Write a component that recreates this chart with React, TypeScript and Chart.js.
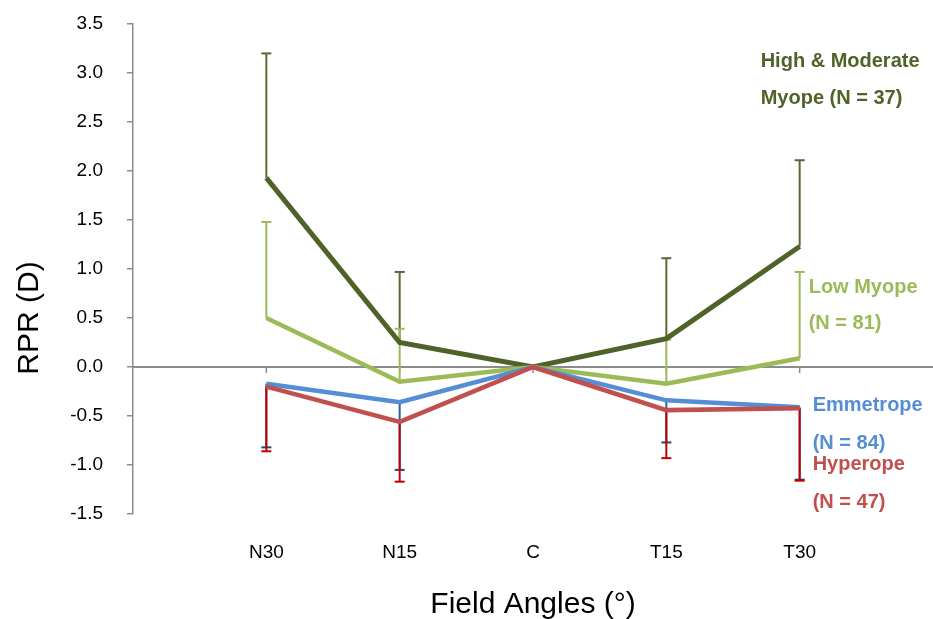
import React, { useEffect, useRef } from "react";
import { Chart, registerables } from "chart.js";

Chart.register(...registerables);

// Field angle categories (placed at x = 1..5 on a 0..6 axis)
const fieldAngles = ["N30", "N15", "C", "T15", "T30"];
const yTicks = [-1.5, -1.0, -0.5, 0.0, 0.5, 1.0, 1.5, 2.0, 2.5, 3.0, 3.5];

// Mean relative peripheral refraction (D) per group
const highModMyope = [1.93, 0.25, 0.0, 0.29, 1.23];
const lowMyope = [0.5, -0.15, 0.0, -0.17, 0.09];
const emmetrope = [-0.17, -0.36, 0.0, -0.34, -0.41];
const hyperope = [-0.2, -0.56, 0.0, -0.44, -0.42];

// One-sided SD error bars (positive = upward, negative = downward)
const highModMyopeSD = [1.27, 0.72, 0.0, 0.82, 0.88];
const lowMyopeSD = [0.98, 0.54, 0.0, 0.45, 0.88];
const emmetropeSD = [-0.65, -0.69, 0.0, -0.43, -0.74];
const hyperopeSD = [-0.66, -0.61, 0.0, -0.49, -0.74];

// Group labels drawn at the right of the plot: [text, colour, y-value of baseline, x offset from T30]
const groupLabels: [string, string, number, number][] = [
  ["High & Moderate", "#4F6228", 3.06, -39],
  ["Myope (N = 37)", "#4F6228", 2.68, -39],
  ["Low Myope", "#9BBB59", 0.755, 9],
  ["(N = 81)", "#9BBB59", 0.39, 9],
  ["Emmetrope", "#558ED5", -0.45, 13],
  ["(N = 84)", "#558ED5", -0.84, 13],
  ["Hyperope", "#C0504D", -1.05, 13],
  ["(N = 47)", "#C0504D", -1.44, 13],
];

const FONT = "'Liberation Sans', Arial, sans-serif";

const xs = fieldAngles.map((_, i) => i + 1);
const toPoints = (vals: number[]) => vals.map((v, i) => ({ x: xs[i], y: v }));

const errorBarSeries = [
  { means: highModMyope, sd: highModMyopeSD, color: "#56692F" },
  { means: lowMyope, sd: lowMyopeSD, color: "#9BBB59" },
  { means: emmetrope, sd: emmetropeSD, color: "#2E5C9A", cap: "#1F497D" },
  { means: hyperope, sd: hyperopeSD, color: "#C00000" },
];

const decorPlugin = {
  id: "decor",
  beforeDatasetsDraw(chart: any) {
    const { ctx, chartArea, scales } = chart;
    const x = scales.x;
    const y = scales.y;
    const y0 = y.getPixelForValue(0);
    ctx.save();
    // zero line with category tick marks
    ctx.strokeStyle = "#8C8C8C";
    ctx.lineWidth = 2;
    ctx.beginPath();
    ctx.moveTo(chartArea.left, y0);
    ctx.lineTo(chartArea.right, y0);
    ctx.stroke();
    ctx.lineWidth = 1.5;
    xs.forEach((v) => {
      const px = x.getPixelForValue(v);
      ctx.beginPath();
      ctx.moveTo(px, y0);
      ctx.lineTo(px, y0 + 6);
      ctx.stroke();
    });
    // error bars
    errorBarSeries.forEach((s) => {
      s.means.forEach((m, i) => {
        if (s.sd[i] === 0) return;
        const px = x.getPixelForValue(xs[i]);
        const pm = y.getPixelForValue(m);
        const pe = y.getPixelForValue(m + s.sd[i]);
        ctx.strokeStyle = s.color;
        ctx.lineWidth = 2;
        ctx.beginPath();
        ctx.moveTo(px, pm);
        ctx.lineTo(px, pe);
        ctx.stroke();
        ctx.strokeStyle = (s as any).cap || s.color;
        ctx.beginPath();
        ctx.moveTo(px - 5, pe);
        ctx.lineTo(px + 5, pe);
        ctx.stroke();
      });
    });
    ctx.restore();
  },
  afterDraw(chart: any) {
    const { ctx, chartArea, scales } = chart;
    const x = scales.x;
    const y = scales.y;
    ctx.save();
    // axis titles
    ctx.fillStyle = "#000";
    ctx.font = `30px ${FONT}`;
    ctx.textAlign = "center";
    ctx.textBaseline = "alphabetic";
    ctx.fillText("Field Angles (°)", (chartArea.left + chartArea.right) / 2, 613);
    ctx.translate(38, y.getPixelForValue(0.5));
    ctx.rotate(-Math.PI / 2);
    ctx.fillText("RPR (D)", 0, 0);
    ctx.restore();

    // group labels
    ctx.save();
    ctx.font = `bold 20px ${FONT}`;
    ctx.textAlign = "left";
    ctx.textBaseline = "alphabetic";
    const xT30 = x.getPixelForValue(xs[xs.length - 1]);
    groupLabels.forEach(([t, c, v, dx]) => {
      ctx.fillStyle = c;
      ctx.fillText(t, xT30 + dx, y.getPixelForValue(v));
    });
    ctx.restore();
  },
};

export default function App() {
  const ref = useRef<HTMLCanvasElement | null>(null);

  useEffect(() => {
    if (!ref.current) return;
    const line = (label: string, data: number[], color: string, width: number) => ({
      label,
      data: toPoints(data),
      borderColor: color,
      backgroundColor: color,
      borderWidth: width,
      pointRadius: 0,
      tension: 0,
    });
    const chart = new Chart(ref.current, {
      type: "line",
      data: {
        datasets: [
          line("Hyperope", hyperope, "#C0504D", 4.5),
          line("Emmetrope", emmetrope, "#558ED5", 4.5),
          line("Low Myope", lowMyope, "#9BBB59", 4.5),
          line("High & Moderate Myope", highModMyope, "#4F6228", 5),
        ],
      },
      options: {
        animation: false,
        responsive: true,
        maintainAspectRatio: false,
        layout: { padding: { top: 24, right: 0, left: 0, bottom: 0 } },
        plugins: { legend: { display: false }, tooltip: { enabled: false } },
        scales: {
          x: {
            type: "linear",
            min: 0,
            max: 6,
            grid: { display: false },
            border: { display: false },
            afterBuildTicks: (s: any) => {
              s.ticks = xs.map((v) => ({ value: v }));
            },
            afterFit: (s: any) => {
              s.height = 105;
              s.paddingLeft = 0;
              s.paddingRight = 0;
            },
            ticks: {
              padding: 19,
              color: "#000",
              font: { family: FONT, size: 19 },
              callback: (v: any) => fieldAngles[Number(v) - 1] ?? "",
            },
          },
          y: {
            min: -1.5,
            max: 3.5,
            afterBuildTicks: (s: any) => {
              s.ticks = yTicks.map((v) => ({ value: v }));
            },
            afterFit: (s: any) => {
              s.width = 133;
              s.paddingTop = 0;
              s.paddingBottom = 0;
            },
            grid: {
              drawOnChartArea: false,
              drawTicks: true,
              tickLength: 6,
              color: "#8C8C8C",
              lineWidth: 1.5,
            },
            border: { display: true, color: "#8C8C8C", width: 1.5 },
            ticks: {
              padding: 24,
              color: "#000",
              font: { family: FONT, size: 19 },
              callback: (v: any) => Number(v).toFixed(1),
            },
          },
        },
      },
      plugins: [decorPlugin],
    });
    return () => chart.destroy();
  }, []);

  return (
    <div style={{ position: "fixed", left: 0, top: 0, width: 933, height: 619, background: "#fff" }}>
      <canvas ref={ref} />
    </div>
  );
}
